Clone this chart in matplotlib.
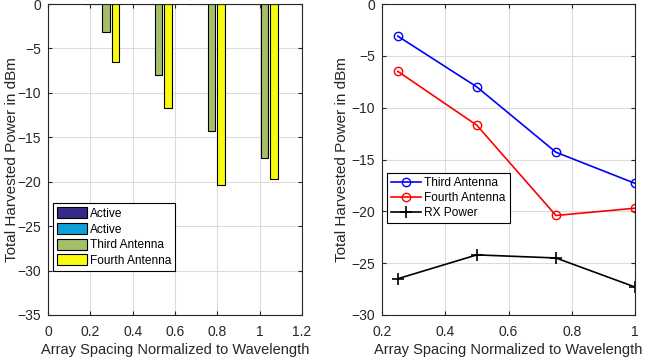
import matplotlib.pyplot as plt
import numpy as np

plt.rcParams['font.family'] = ['Liberation Sans', 'DejaVu Sans']

spacing = [0.25, 0.5, 0.75, 1.0]
active_1 = [0, 0, 0, 0]
active_2 = [0, 0, 0, 0]
third_antenna = [-3.1, -8.0, -14.3, -17.3]
fourth_antenna = [-6.5, -11.7, -20.4, -19.7]
rx_power = [-26.5, -24.2, -24.5, -27.3]

bar_labels = ['Active', 'Active', 'Third Antenna', 'Fourth Antenna']
bar_colors = ['#352a87', '#0d9fd8', '#a5be6a', '#f9fb0e']

fig = plt.figure(figsize=(6.45, 3.59), dpi=100)
ax1 = fig.add_axes([48 / 645, 1 - 315 / 359, 254 / 645, 311 / 359])
ax2 = fig.add_axes([382 / 645, 1 - 315 / 359, 253 / 645, 311 / 359])

tick_col = '#262626'


def style(ax, label_x):
    ax.grid(True, color='#dcdcdc', linewidth=0.8)
    ax.set_axisbelow(True)
    ax.tick_params(direction='in', top=True, right=True, labelsize=10,
                   colors=tick_col, length=3)
    ax.tick_params(axis='x', pad=7)
    ax.tick_params(axis='y', pad=5)
    for s in ax.spines.values():
        s.set_color('#262626')
        s.set_linewidth(0.8)
    ax.set_xlabel('Array Spacing Normalized to Wavelength', fontsize=10.5,
                  color=tick_col, labelpad=3)
    ax.set_ylabel('Total Harvested Power in dBm', fontsize=11, color=tick_col)
    ax.yaxis.set_label_coords(label_x, 0.5)


# grouped bars, matlab style offsets
step = 0.25
group_w = min(0.8, 4 / (4 + 1.5)) * step
off = group_w / 4
series = [active_1, active_2, third_antenna, fourth_antenna]
x = np.array(spacing)
for i, vals in enumerate(series):
    ax1.bar(x + (i - 1.5) * off, vals, width=off * 0.8, color=bar_colors[i],
            edgecolor='black', linewidth=0.8, label=bar_labels[i])
ax1.set_xlim(0, 1.2)
ax1.set_ylim(-35, 0)
ax1.set_xticks([0, 0.2, 0.4, 0.6, 0.8, 1.0, 1.2])
ax1.set_xticklabels(['0', '0.2', '0.4', '0.6', '0.8', '1', '1.2'])
ax1.set_yticks(range(-35, 1, 5))
style(ax1, -0.116)
leg1 = ax1.legend(loc='lower left', bbox_to_anchor=(0.0185, 0.1415), fontsize=8.6,
                  frameon=True, fancybox=False, edgecolor='black', framealpha=1,
                  handlelength=2.5, handleheight=1.05, borderpad=0.35,
                  labelspacing=0.25, handletextpad=0.25, borderaxespad=0)
leg1.get_frame().set_linewidth(0.8)

ax2.plot(spacing, third_antenna, color='#0000ff', marker='o', mfc='none',
         ms=6, lw=1.2, label='Third Antenna')
ax2.plot(spacing, fourth_antenna, color='#ff0000', marker='o', mfc='none',
         ms=6, lw=1.2, label='Fourth Antenna')
ax2.plot(spacing, rx_power, color='black', marker='+', ms=8, mew=1.2,
         lw=1.2, label='RX Power')
ax2.set_xlim(0.2, 1.0)
ax2.set_ylim(-30, 0)
ax2.set_xticks([0.2, 0.4, 0.6, 0.8, 1.0])
ax2.set_xticklabels(['0.2', '0.4', '0.6', '0.8', '1'])
ax2.set_yticks(range(-30, 1, 5))
style(ax2, -0.13)
leg2 = ax2.legend(loc='upper left', bbox_to_anchor=(0.0198, 0.4566), fontsize=8.6,
                  frameon=True, fancybox=False, edgecolor='black', framealpha=1,
                  handlelength=2.5, borderpad=0.35, labelspacing=0.25,
                  handletextpad=0.25, borderaxespad=0)
leg2.get_frame().set_linewidth(0.8)

fig.savefig('out.png', dpi=100)
